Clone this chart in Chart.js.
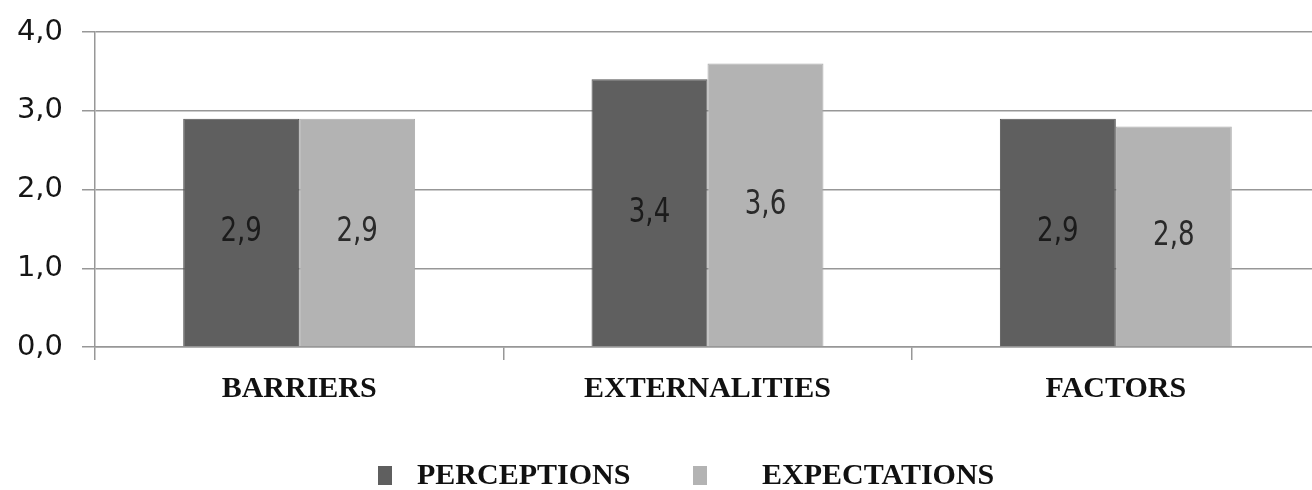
<!DOCTYPE html>
<html>
<head>
<meta charset="utf-8">
<script src="https://cdn.jsdelivr.net/npm/chart.js@4"></script>
<style>
  html, body { margin: 0; padding: 0; overflow: hidden; background: #fff; }
  #wrap { width: 1321px; height: 490px; }
</style>
</head>
<body>
<div id="wrap"><canvas id="c" width="1321" height="490"></canvas></div>
<script>
// Mean scores per dimension
const categories = ['BARRIERS', 'EXTERNALITIES', 'FACTORS'];
const perceptions = [2.9, 3.4, 2.9];
const expectations = [2.9, 3.6, 2.8];
const seriesNames = ['PERCEPTIONS', 'EXPECTATIONS'];
const yTickValues = [0, 1, 2, 3, 4];

const fmt = v => v.toFixed(1).replace('.', ',');

const GRID = '#979797';
const DARK = '#5f5f5f';
const LIGHT = '#b3b3b3';

// Value written in the middle of each bar, slightly tall lettering
const valueLabels = {
  id: 'valueLabels',
  afterDatasetsDraw(chart) {
    const ctx = chart.ctx;
    chart.data.datasets.forEach((ds, i) => {
      const meta = chart.getDatasetMeta(i);
      meta.data.forEach((bar, j) => {
        const p = bar.getProps(['x', 'y', 'base'], true);
        ctx.save();
        ctx.translate(p.x, (p.y + p.base) / 2);
        ctx.scale(1, 1.18);
        ctx.font = '29px "DejaVu Sans Condensed", "DejaVu Sans", sans-serif';
        ctx.fillStyle = ds.labelColor;
        ctx.textAlign = 'center';
        ctx.textBaseline = 'middle';
        ctx.fillText(fmt(ds.data[j]), 0, 0);
        ctx.restore();
      });
    });
  }
};

// Legend row under the category labels
const legendRow = {
  id: 'legendRow',
  afterDraw(chart) {
    const ctx = chart.ctx;
    const items = [
      { box: 378, text: 417 },
      { box: 693, text: 762 }
    ];
    const cy = 476;
    ctx.save();
    chart.data.datasets.forEach((ds, i) => {
      const it = items[i];
      ctx.fillStyle = ds.backgroundColor;
      ctx.fillRect(it.box, cy - 10, 14, 19);
      ctx.font = 'bold 30px "Liberation Serif", "Times New Roman", serif';
      ctx.fillStyle = '#111';
      ctx.textAlign = 'left';
      ctx.textBaseline = 'middle';
      ctx.fillText(ds.label, it.text, cy);
    });
    ctx.restore();
  }
};

new Chart(document.getElementById('c'), {
  type: 'bar',
  data: {
    labels: categories,
    datasets: [
      { label: seriesNames[0], data: perceptions, backgroundColor: DARK, borderColor: '#545454', borderWidth: 1, labelColor: '#1b1b1b' },
      { label: seriesNames[1], data: expectations, backgroundColor: LIGHT, borderColor: '#aaaaaa', borderWidth: 1, labelColor: '#2a2a2a' }
    ]
  },
  options: {
    responsive: false,
    animation: false,
    devicePixelRatio: 1,
    layout: { padding: { top: 32, right: 1, bottom: 84, left: 0 } },
    datasets: { bar: { categoryPercentage: 0.568, barPercentage: 1.0 } },
    plugins: { legend: { display: false }, tooltip: { enabled: false } },
    scales: {
      x: {
        grid: { offset: true, drawOnChartArea: false, drawTicks: true, tickLength: 13, color: GRID, lineWidth: 1.5 },
        border: { display: true, color: GRID, width: 1.5 },
        ticks: {
          padding: 11,
          color: '#111',
          font: { family: '"Liberation Serif", "Times New Roman", serif', size: 30, weight: 'bold' }
        },
        afterFit(scale) { scale.height = 59; }
      },
      y: {
        min: 0,
        max: 4,
        afterBuildTicks(scale) { scale.ticks = yTickValues.map(v => ({ value: v })); },
        grid: { color: GRID, lineWidth: 1.5, tickLength: 13, drawTicks: true },
        border: { display: true, color: GRID, width: 1.5 },
        ticks: {
          padding: 19,
          color: '#151515',
          font: { family: '"DejaVu Sans", Verdana, sans-serif', size: 29 },
          callback: v => fmt(v)
        },
        afterFit(scale) {
          scale.width = 95;
          scale.paddingTop = 0;
          scale.paddingBottom = 0;
        }
      }
    }
  },
  plugins: [valueLabels, legendRow]
});
</script>
</body>
</html>
